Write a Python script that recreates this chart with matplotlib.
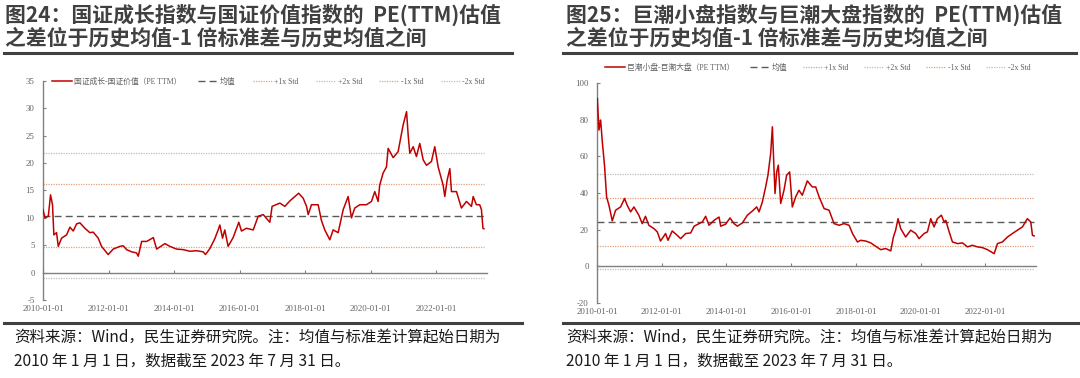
import matplotlib
matplotlib.use('Agg')
import matplotlib.pyplot as plt
import matplotlib.dates as mdates
from matplotlib.lines import Line2D
import pandas as pd

plt.rcParams['font.family'] = ['Liberation Serif', 'Noto Sans CJK SC', 'DejaVu Sans']
plt.rcParams['axes.unicode_minus'] = False

# ---- data ----
growth_value_dates = [
    '2010-01-01', '2010-01-23', '2010-03-01', '2010-03-26', '2010-04-17', '2010-05-02',
    '2010-06-01', '2010-06-20', '2010-07-27', '2010-09-21', '2010-10-28', '2010-12-04',
    '2011-01-10', '2011-02-16', '2011-04-13', '2011-06-07', '2011-07-14', '2011-09-08',
    '2011-10-15', '2011-12-28', '2012-02-22', '2012-05-07', '2012-06-13', '2012-07-20',
    '2012-09-14', '2012-11-08', '2012-11-27', '2013-01-04', '2013-03-01', '2013-05-14',
    '2013-06-20', '2013-09-20', '2013-11-14', '2014-01-28', '2014-04-12', '2014-06-25',
    '2014-09-07', '2014-11-20', '2014-12-16', '2015-02-03', '2015-03-30', '2015-05-06',
    '2015-05-25', '2015-06-24', '2015-07-19', '2015-08-25', '2015-10-20', '2015-12-22',
    '2016-01-21', '2016-03-17', '2016-05-31', '2016-07-25', '2016-09-19', '2016-12-02',
    '2016-12-27', '2017-03-24', '2017-05-18', '2017-07-13', '2017-09-07', '2017-10-19',
    '2017-12-08', '2018-01-15', '2018-02-02', '2018-03-11', '2018-05-24', '2018-06-30',
    '2018-08-06', '2018-10-01', '2018-11-07', '2019-01-02', '2019-02-27', '2019-04-23',
    '2019-05-30', '2019-07-06', '2019-08-31', '2019-11-13', '2020-01-08', '2020-02-14',
    '2020-03-22', '2020-04-09', '2020-05-17', '2020-06-23', '2020-07-12', '2020-09-06',
    '2020-10-31', '2020-12-26', '2021-02-02', '2021-02-20', '2021-03-10', '2021-04-17',
    '2021-05-23', '2021-06-29', '2021-08-06', '2021-09-12', '2021-11-06', '2021-12-13',
    '2022-01-20', '2022-03-16', '2022-04-04', '2022-04-30', '2022-05-30', '2022-06-17',
    '2022-08-12', '2022-10-06', '2022-12-01', '2023-01-26', '2023-02-14', '2023-03-22',
    '2023-04-28', '2023-05-17', '2023-06-03', '2023-06-14',
]
growth_value_pe = [
    11.5, 10.0, 10.3, 14.2, 12.4, 6.9,
    7.3, 4.8, 6.3, 6.9, 8.3, 7.6,
    8.9, 9.1, 8.1, 7.3, 7.4, 6.3,
    4.8, 3.3, 4.3, 4.8, 4.9, 4.2,
    3.8, 3.6, 3.0, 5.7, 5.7, 6.4,
    4.3, 5.3, 4.8, 4.3, 4.2, 3.9,
    4.0, 3.8, 3.3, 4.4, 6.2, 7.8,
    8.7, 6.3, 7.8, 4.8, 6.4, 9.2,
    7.6, 8.1, 7.8, 10.3, 10.6, 9.2,
    12.1, 12.7, 12.1, 13.1, 13.9, 14.5,
    13.6, 12.1, 10.6, 12.4, 12.4, 9.5,
    7.8, 6.0, 7.8, 7.3, 11.5, 13.9,
    10.0, 11.8, 12.4, 12.4, 13.0, 14.8,
    13.0, 16.0, 18.2, 19.3, 22.7, 21.0,
    22.1, 27.0, 29.4, 25.1, 21.8, 23.0,
    21.2, 23.6, 20.6, 19.6, 20.3, 23.0,
    19.3, 16.0, 13.9, 16.9, 19.0, 14.8,
    14.8, 11.8, 13.0, 12.1, 13.9, 12.4,
    12.4, 11.5, 8.1, 8.0,
]
# mean, +1x, +2x, -1x, -2x
growth_value_bands = [10.4, 16.1, 21.8, 4.7, -1.0]

small_large_dates = [
    '2010-01-01', '2010-01-05', '2010-01-23', '2010-02-11', '2010-03-02', '2010-03-28',
    '2010-04-19', '2010-05-16', '2010-06-22', '2010-07-30', '2010-09-24', '2010-11-08',
    '2010-12-08', '2011-01-15', '2011-02-22', '2011-04-18', '2011-05-26', '2011-07-02',
    '2011-08-09', '2011-10-05', '2011-11-12', '2011-12-19', '2012-02-14', '2012-03-12',
    '2012-04-29', '2012-06-25', '2012-08-02', '2012-09-28', '2012-11-23', '2013-01-01',
    '2013-02-26', '2013-04-04', '2013-05-11', '2013-06-18', '2013-08-14', '2013-10-09',
    '2013-10-28', '2013-12-23', '2014-02-10', '2014-03-27', '2014-05-04', '2014-06-30',
    '2014-08-25', '2014-10-21', '2014-12-08', '2015-01-04', '2015-02-10', '2015-03-19',
    '2015-04-14', '2015-05-15', '2015-06-03', '2015-06-22', '2015-07-03', '2015-07-22',
    '2015-08-09', '2015-09-05', '2015-10-12', '2015-11-11', '2015-12-15', '2016-01-14',
    '2016-02-21', '2016-03-29', '2016-05-06', '2016-07-01', '2016-08-27', '2016-10-04',
    '2016-11-11', '2017-01-07', '2017-03-04', '2017-04-29', '2017-06-25', '2017-08-20',
    '2017-10-16', '2017-11-23', '2018-01-18', '2018-02-24', '2018-04-22', '2018-06-17',
    '2018-08-13', '2018-10-08', '2018-12-03', '2019-01-29', '2019-02-28', '2019-03-25',
    '2019-04-21', '2019-05-21', '2019-07-16', '2019-09-11', '2019-11-07', '2019-12-14',
    '2020-02-09', '2020-03-18', '2020-04-24', '2020-06-01', '2020-07-08', '2020-08-22',
    '2020-09-22', '2020-10-11', '2020-11-18', '2020-12-25', '2021-02-20', '2021-04-17',
    '2021-06-13', '2021-08-08', '2021-10-03', '2021-11-29', '2022-01-24', '2022-04-10',
    '2022-05-17', '2022-07-12', '2022-09-07', '2022-11-02', '2022-12-28', '2023-02-23',
    '2023-04-20', '2023-05-28', '2023-06-16', '2023-07-05',
]
small_large_pe = [
    85.2, 91.6, 74.3, 79.8, 67.9, 54.3,
    37.9, 33.3, 24.8, 30.6, 32.4, 37.0,
    33.3, 29.7, 32.4, 27.9, 23.3, 27.3,
    22.4, 20.6, 18.8, 13.8, 17.9, 14.2,
    19.3, 16.9, 15.1, 17.9, 18.2, 21.9,
    23.3, 24.2, 27.3, 22.4, 25.1, 26.9,
    21.9, 23.0, 26.4, 23.3, 21.9, 23.7,
    27.9, 30.2, 32.4, 29.7, 35.1, 43.3,
    49.7, 61.6, 76.1, 52.5, 39.7, 51.5,
    55.2, 34.3, 41.5, 49.7, 51.5, 32.4,
    37.9, 41.5, 38.8, 46.6, 43.3, 43.3,
    37.9, 31.5, 30.6, 23.3, 22.4, 23.3,
    22.4, 17.9, 13.3, 14.2, 13.8, 12.8,
    10.9, 9.1, 9.7, 8.4, 16.0, 19.7,
    26.0, 20.6, 16.0, 19.7, 17.9, 15.1,
    17.9, 18.8, 26.0, 21.5, 26.0, 27.9,
    24.2, 25.1, 18.8, 13.3, 12.4, 12.8,
    10.6, 11.5, 10.6, 10.2, 9.1, 6.9,
    12.4, 13.3, 16.0, 17.9, 19.7, 21.5,
    26.0, 24.2, 16.9, 16.6,
]
small_large_bands = [24.3, 37.3, 50.3, 11.3, -1.5]

band_labels = ['均值', '+1x Std', '+2x Std', '-1x Std', '-2x Std']

RED = '#C00000'
GRAY = '#808080'
TXT = '#404040'

fig = plt.figure(figsize=(10.8, 3.78), dpi=100)


def panel(rect, dates, values, bands, label, ylim, ystep, xend, legend_xy, xpad, colsp):
    ax = fig.add_axes(rect)
    d = pd.to_datetime(dates)
    ax.plot(d, values, color=RED, lw=1.1, label=label, zorder=5)
    styles = [
        dict(color='#595959', lw=1.0, ls=(0, (5, 3))),
        dict(color='#E3A27E', lw=0.9, ls=(0, (1, 1))),
        dict(color='#BDBDBD', lw=0.9, ls=(0, (1, 1))),
        dict(color='#E3A27E', lw=0.9, ls=(0, (1, 1))),
        dict(color='#BDBDBD', lw=0.9, ls=(0, (1, 1))),
    ]
    for lvl, lab, st in zip(bands, band_labels, styles):
        ax.plot([d[0], d[-1]], [lvl, lvl], label=lab, **st)

    ax.set_xlim(d[0], pd.Timestamp(xend))
    ax.set_ylim(*ylim)
    ax.set_yticks(range(ylim[0], ylim[1] + 1, ystep))
    ax.xaxis.set_major_locator(mdates.YearLocator(2, month=1, day=1))
    ax.xaxis.set_major_formatter(mdates.DateFormatter('%Y-%m-%d'))

    for s in ['top', 'right']:
        ax.spines[s].set_visible(False)
    ax.spines['bottom'].set_position(('data', 0))
    ax.spines['bottom'].set_color(GRAY)
    ax.spines['left'].set_color(GRAY)
    ax.spines['bottom'].set_linewidth(1.0)
    ax.spines['left'].set_linewidth(1.0)
    ax.tick_params(axis='x', direction='in', length=2.5, color=GRAY,
                   labelsize=6.3, labelcolor='#606060', pad=xpad)
    ax.tick_params(axis='y', direction='in', length=2.5, color=GRAY,
                   labelsize=6.3, labelcolor='#606060', pad=6)

    ax.legend(loc='center left', bbox_to_anchor=legend_xy, bbox_transform=fig.transFigure,
              ncol=6, frameon=False, borderpad=0, borderaxespad=0, fontsize=5.6,
              handlelength=2.6, handletextpad=0.2, columnspacing=colsp, labelcolor='#606060')
    return ax


panel([43 / 1080, 1 - 300 / 378, 444 / 1080, 219 / 378],
      growth_value_dates, growth_value_pe, growth_value_bands,
      '国证成长-国证价值（PE TTM）', (-5, 35), 5, '2023-07-18',
      (52 / 1080, 1 - 82 / 378), 23, 2.2)
panel([597 / 1080, 1 - 303 / 378, 439 / 1080, 220 / 378],
      small_large_dates, small_large_pe, small_large_bands,
      '巨潮小盘-巨潮大盘（PE TTM）', (-20, 100), 20, '2023-07-26',
      (605 / 1080, 1 - 68 / 378), 30, 2.0)

title_font = ['Noto Sans CJK SC', 'DejaVu Sans']
titles = [
    (5, '图24：国证成长指数与国证价值指数的  PE(TTM)估值', '之差位于历史均值-1 倍标准差与历史均值之间'),
    (566, '图25：巨潮小盘指数与巨潮大盘指数的  PE(TTM)估值', '之差位于历史均值-1 倍标准差与历史均值之间'),
]
for x0, l1, l2 in titles:
    fig.text(x0 / 1080, 1 - 15 / 378, l1, fontsize=15, fontweight='bold', color=TXT,
             family=title_font, va='center', ha='left')
    fig.text(x0 / 1080, 1 - 38 / 378, l2, fontsize=15, fontweight='bold', color=TXT,
             family=title_font, va='center', ha='left')

footer1 = '资料来源：Wind，民生证券研究院。注：均值与标准差计算起始日期为'
footer2 = '2010 年 1 月 1 日，数据截至 2023 年 7 月 31 日。'
for x0 in [14, 566]:
    fig.text(x0 / 1080, 1 - 338 / 378, footer1, fontsize=11.2, color='#1a1a1a',
             family=title_font, va='center', ha='left')
    fig.text(x0 / 1080, 1 - 361 / 378, footer2, fontsize=11.2, color='#1a1a1a',
             family=title_font, va='center', ha='left')

# separator rules
for x0, x1 in [(4, 512), (563, 1076)]:
    fig.add_artist(Line2D([x0 / 1080, x1 / 1080], [1 - 53 / 378, 1 - 53 / 378],
                          transform=fig.transFigure, color='#404040', lw=2.2))
    fig.add_artist(Line2D([x0 / 1080, (x1 + 10) / 1080], [1 - 323 / 378, 1 - 323 / 378],
                          transform=fig.transFigure, color='#404040', lw=2.2))

fig.savefig('out.png', dpi=100)
